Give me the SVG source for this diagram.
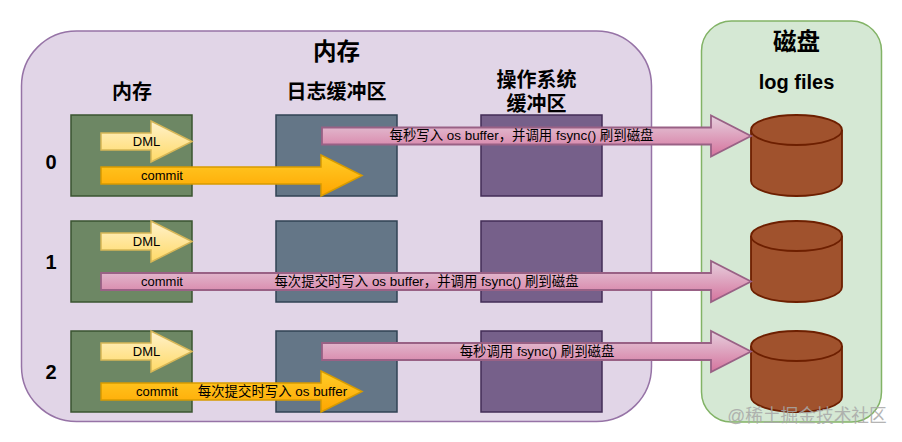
<svg xmlns="http://www.w3.org/2000/svg" width="902" height="442" viewBox="0 0 902 442">
<style>
text{font-family:"Liberation Sans","Noto Sans CJK SC",sans-serif;fill:#000;text-anchor:middle}
.h{font-size:23.500px;font-weight:bold}
.s{font-size:20px;font-weight:bold}
.n{font-size:20px;font-weight:bold}
.l{font-size:13.400px}
.c{font-size:13px}
.g{fill:#6d8764;stroke:#3a5431;stroke-width:1.500}
.b{fill:#647687;stroke:#314354;stroke-width:1.500}
.p{fill:#76608a;stroke:#432d57;stroke-width:1.500}
.dml{fill:url(#fy);stroke:#d6b656;stroke-width:1.500}
.com{fill:url(#fo);stroke:#d79b00;stroke-width:1.500}
.pk{fill:url(#fp);stroke:#996185;stroke-width:1.800}
.cy{fill:#a0522d;stroke:#6d1f00;stroke-width:1.800}
</style>
<defs>
<linearGradient id="fy" x1="0" y1="0" x2="0" y2="1"><stop offset="0" stop-color="#fff2cc"/><stop offset="1" stop-color="#ffd966"/></linearGradient>
<linearGradient id="fo" x1="0" y1="0" x2="0" y2="1"><stop offset="0" stop-color="#ffcd28"/><stop offset="1" stop-color="#ffa500"/></linearGradient>
<linearGradient id="fp" x1="0" y1="0" x2="0" y2="1"><stop offset="0" stop-color="#e6d0de"/><stop offset="1" stop-color="#d5739d"/></linearGradient>
</defs>
<g id="memory-panel"><rect x="21.500" y="31" width="630" height="390.500" rx="55" fill="#e1d5e7" stroke="#9673a6" stroke-width="1.500"/><text class="h" x="336.500" y="60">内存</text></g>
<g id="disk-panel"><rect x="701.500" y="21" width="180" height="401" rx="30" fill="#d5e8d4" stroke="#82b366" stroke-width="1.500"/><text class="h" x="796.500" y="50">磁盘</text><text class="n" x="796.500" y="89">log files</text></g>
<g id="col-labels"><text class="s" x="132" y="99">内存</text><text class="s" x="336.500" y="99">日志缓冲区</text><text class="s" x="536.500" y="87">操作系统</text><text class="s" x="536.500" y="111">缓冲区</text></g>
<g id="row-labels"><text class="n" x="51" y="169">0</text><text class="n" x="51" y="269">1</text><text class="n" x="51" y="379">2</text></g>
<g id="row0-boxes"><rect class="g" x="71" y="115" width="121" height="81"/><rect class="b" x="276" y="115" width="121" height="81"/><rect class="p" x="481" y="115" width="121" height="81"/></g>
<g id="row1-boxes"><rect class="g" x="71" y="221" width="121" height="81"/><rect class="b" x="276" y="221" width="121" height="81"/><rect class="p" x="481" y="221" width="121" height="81"/></g>
<g id="row2-boxes"><rect class="g" x="71" y="331" width="121" height="81"/><rect class="b" x="276" y="331" width="121" height="81"/><rect class="p" x="481" y="331" width="121" height="81"/></g>
<g id="disk0"><path class="cy" d="M751 130a45.500 15 0 0 1 91 0v51a45.500 15 0 0 1-91 0z"/><path class="cy" style="fill:none" d="M751 130a45.500 15 0 0 0 91 0"/></g>
<g id="disk1"><path class="cy" d="M751 236a45.500 15 0 0 1 91 0v51a45.500 15 0 0 1-91 0z"/><path class="cy" style="fill:none" d="M751 236a45.500 15 0 0 0 91 0"/></g>
<g id="disk2"><path class="cy" d="M751 346a45.500 15 0 0 1 91 0v51a45.500 15 0 0 1-91 0z"/><path class="cy" style="fill:none" d="M751 346a45.500 15 0 0 0 91 0"/></g>
<g id="connectors">
<path class="dml" d="M101 133h50v-12l41 20.500-41 20.500v-12h-50z"/>
<path class="dml" d="M101 233h50v-12l41 20.500-41 20.500v-12h-50z"/>
<path class="dml" d="M101 343h50v-12l41 20.500-41 20.500v-12h-50z"/>
<path class="com" d="M101 167h220v-12l41 20.500-41 20.500v-12h-220z"/>
<path class="com" d="M101 383h220v-12l41 20.500-41 20.500v-12h-220z"/>
<path class="pk" d="M322 127.500h389v-12l40 20.500-40 20.500v-12h-389z"/>
<path class="pk" d="M101 273h610v-12l40 20.500-40 20.500v-12h-610z"/>
<path class="pk" d="M322 343h389v-12l40 20.500-40 20.500v-12h-389z"/>
</g>
<g id="arrow-labels">
<text class="c" x="146.500" y="146">DML</text><text class="c" x="146.500" y="246">DML</text><text class="c" x="146.500" y="356">DML</text>
<text class="c" x="162" y="180">commit</text><text class="c" x="162" y="286">commit</text><text class="c" x="157" y="396">commit</text>
<text class="l" x="272.500" y="396">每次提交时写入 os buffer</text>
<text class="l" x="521.500" y="139.500">每秒写入 os buffer，并调用 fsync() 刷到磁盘</text>
<text class="l" x="426.500" y="286">每次提交时写入 os buffer，并调用 fsync() 刷到磁盘</text>
<text class="l" x="537" y="356">每秒调用 fsync() 刷到磁盘</text>
</g>
<text x="807" y="422" font-size="17.700" style="fill:#a8a8a8;opacity:.85">@稀土掘金技术社区</text>
</svg>
